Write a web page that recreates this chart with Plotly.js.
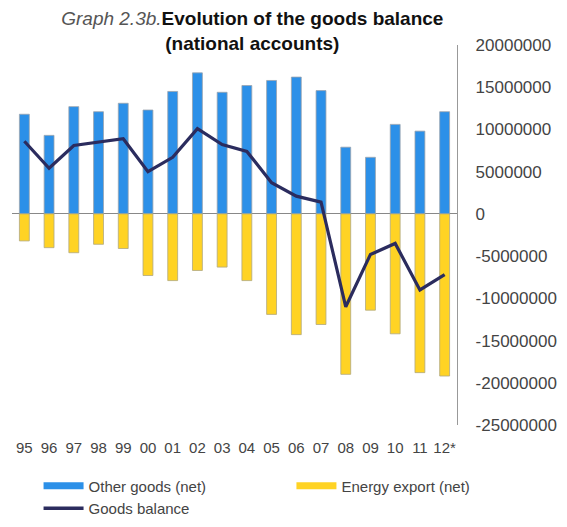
<!DOCTYPE html>
<html>
<head>
<meta charset="utf-8">
<script src="https://cdn.plot.ly/plotly-3.0.1.min.js"></script>
<style>html,body{margin:0;padding:0;background:#fff;}#chart{width:567px;height:527px;}</style>
</head>
<body>
<div id="chart"></div>
<script>
var years = ["95","96","97","98","99","00","01","02","03","04","05","06","07","08","09","10","11","12*"];
var otherGoods = [11.8, 9.3, 12.7, 12.1, 13.1, 12.3, 14.5, 16.7, 14.4, 15.2, 15.8, 16.2, 14.6, 7.9, 6.7, 10.6, 9.8, 12.1].map(function(v){return v*1e6;});
var energyExport = [-3.2, -4.0, -4.6, -3.6, -4.1, -7.3, -7.9, -6.7, -6.3, -7.9, -11.9, -14.3, -13.1, -19.0, -11.4, -14.2, -18.8, -19.2].map(function(v){return v*1e6;});
var goodsBalance = [8.6, 5.4, 8.1, 8.5, 8.9, 5.0, 6.7, 10.1, 8.2, 7.4, 3.7, 2.1, 1.4, -11.0, -4.8, -3.5, -9.0, -7.2].map(function(v){return v*1e6;});
var yTicks = [20000000,15000000,10000000,5000000,0,-5000000,-10000000,-15000000,-20000000,-25000000];

var blue = "#2C90E8", yellow = "#FFD324", navy = "#2B2C5E";

var traces = [
  {type:"bar", x:years, y:otherGoods, name:"Other goods (net)", showlegend:false,
   marker:{color:blue, line:{color:"#9aa3ad", width:0.8}}, width:0.4, hoverinfo:"y"},
  {type:"bar", x:years, y:energyExport, name:"Energy export (net)", showlegend:false,
   marker:{color:yellow, line:{color:"#b0a880", width:0.8}}, width:0.4, hoverinfo:"y"},
  {type:"scatter", mode:"lines", x:years, y:goodsBalance, name:"Goods balance", showlegend:false,
   line:{color:navy, width:3.2}},
  {type:"scatter", mode:"lines", x:[null], y:[null], name:"Other goods (net)", legend:"legend", line:{color:blue, width:7}},
  {type:"scatter", mode:"lines", x:[null], y:[null], name:"Energy export (net)", legend:"legend2", line:{color:yellow, width:7}},
  {type:"scatter", mode:"lines", x:[null], y:[null], name:"Goods balance", legend:"legend", line:{color:navy, width:3.5}}
];

var legendBase = {
  orientation:"v", xref:"container", xanchor:"left", yref:"container", yanchor:"top",
  itemwidth:40, font:{size:15, color:"#444"}, traceorder:"normal", tracegroupgap:0,
  bgcolor:"rgba(0,0,0,0)"
};

var layout = {
  width:567, height:527,
  paper_bgcolor:"#fff", plot_bgcolor:"#fff",
  font:{family:"Arial, 'Liberation Sans', sans-serif", color:"#333"},
  margin:{l:12, r:110, t:45, b:102, autoexpand:false},
  barmode:"relative",
  bargap:0.6,
  title:{
    text:"<span style='color:#555;font-weight:normal'><i>Graph 2.3b.</i></span><b>Evolution of the goods balance</b><br><b>(national accounts)</b>",
    font:{size:19, color:"#111"},
    x:0.445, xref:"container", xanchor:"center",
    y:0.952, yref:"container", yanchor:"middle"
  },
  xaxis:{
    type:"category", showline:false, showgrid:false, zeroline:false, ticks:"",
    tickfont:{size:15, color:"#444", family:"'Liberation Sans Narrow', 'Arial Narrow', Arial, sans-serif"},
    ticklabelstandoff:12, fixedrange:true
  },
  yaxis:{
    side:"right", range:[-25000000, 20000000], tickvals:yTicks,
    ticktext:yTicks.map(function(v){return String(v);}),
    showline:true, linecolor:"#999", linewidth:1.2,
    showgrid:false, zeroline:true, zerolinecolor:"#888", zerolinewidth:1.2,
    ticks:"", tickfont:{size:17, color:"#444"}, ticklabelstandoff:14
  },
  legend:Object.assign({}, legendBase, {x:0.068, y:0.109}),
  legend2:Object.assign({}, legendBase, {x:0.514, y:0.109}),
  showlegend:true
};

Plotly.newPlot("chart", traces, layout, {displayModeBar:false, staticPlot:true});
</script>
</body>
</html>
